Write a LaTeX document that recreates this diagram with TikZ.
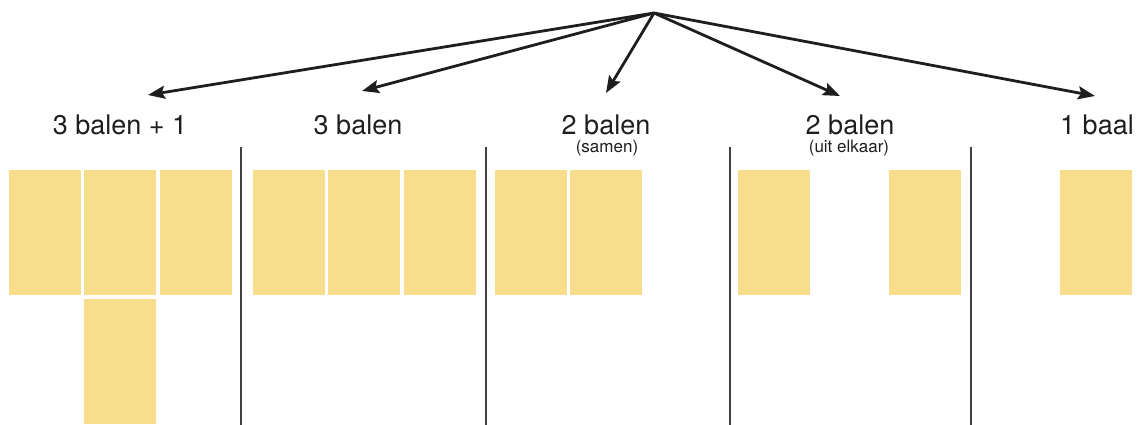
\documentclass[tikz,border=0pt]{standalone}
\usepackage{fontspec}
\setmainfont{TeX Gyre Heros}
\usetikzlibrary{arrows.meta}
\definecolor{straw}{HTML}{F8DD8C}
\definecolor{ink}{HTML}{1E1E1E}
\begin{document}
\begin{tikzpicture}
        [x=1pt,y=-1pt,
        bale/.style={rectangle,fill=straw,inner sep=0,minimum width=72pt,minimum height=125pt},
        lbl/.style={anchor=base,text=ink,font=\fontsize{27}{30}\selectfont},
        sub/.style={anchor=base,text=ink,font=\fontsize{17}{19}\selectfont},
        sep/.style={line width=1.4pt,draw=ink!85},
        arr/.style={-{Stealth[length=17pt,width=13pt,inset=3pt]},line width=2.8pt,draw=ink}]
        \useasboundingbox (0,0) rectangle (1141,425);
        % top point and arrow ends
        \coordinate (top) at (654,13);
        \coordinate (e1) at (148,95);
        \coordinate (e2) at (362,91);
        \coordinate (e3) at (606,93);
        \coordinate (e4) at (840,96);
        \coordinate (e5) at (1095,96);
        \foreach \i in {1,...,5}
          \draw [arr] (top) -- (e\i);
        % labels
        \node (l1) at (120,135) [lbl] {3 balen + 1};
        \node (l2) at (358,135) [lbl] {3 balen};
        \node (l3) at (606,135) [lbl] {2 balen};
        \node (s3) at (607,153) [sub] {(samen)};
        \node (l4) at (850,135) [lbl] {2 balen};
        \node (s4) at (849,153) [sub] {(uit elkaar)};
        \node (l5) at (1097,135) [lbl] {1 baal};
        % bales
        \node (a1) at (45,232.5) [bale] {};
        \node (a2) at (120,232.5) [bale] {};
        \node (a3) at (196,232.5) [bale] {};
        \node (a4) at (120,361.5) [bale] {};
        \node (b1) at (289,232.5) [bale] {};
        \node (b2) at (364,232.5) [bale] {};
        \node (b3) at (440,232.5) [bale] {};
        \node (c1) at (531,232.5) [bale] {};
        \node (c2) at (606,232.5) [bale] {};
        \node (d1) at (774,232.5) [bale] {};
        \node (d2) at (925,232.5) [bale] {};
        \node (f1) at (1096,232.5) [bale] {};
        % dividers
        \foreach \x in {241,486,730,971}
          \draw [sep] (\x,147) -- (\x,425);
     \end{tikzpicture}
\end{document}
